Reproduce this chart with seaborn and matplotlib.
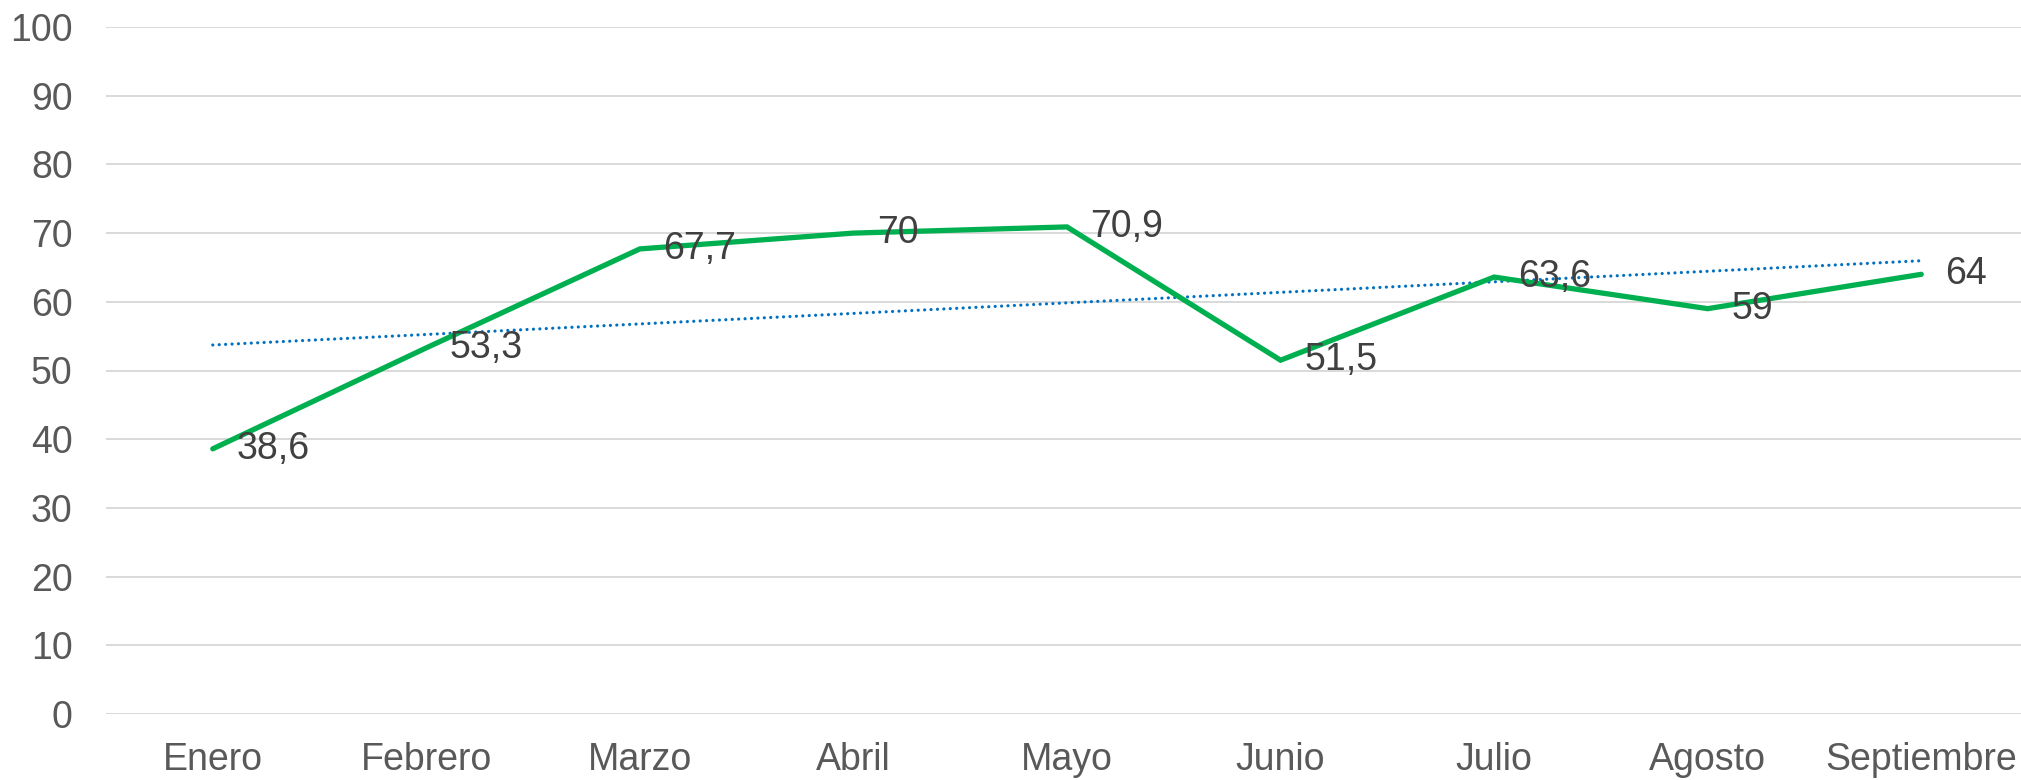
import matplotlib
matplotlib.use('Agg')
import matplotlib.pyplot as plt
import pandas as pd
import seaborn as sns

# datos del gráfico
meses = ['Enero', 'Febrero', 'Marzo', 'Abril', 'Mayo', 'Junio', 'Julio', 'Agosto', 'Septiembre']
valores = [38.6, 53.3, 67.7, 70, 70.9, 51.5, 63.6, 59, 64]
etiquetas = ['38,6', '53,3', '67,7', '70', '70,9', '51,5', '63,6', '59', '64']
yticks = [0, 10, 20, 30, 40, 50, 60, 70, 80, 90, 100]

sns.set_theme(style='white')
plt.rcParams['font.family'] = ['Liberation Sans', 'DejaVu Sans']

df = pd.DataFrame({'pos': range(len(meses)), 'mes': meses, 'valor': valores})

fig = plt.figure(figsize=(20.21, 7.8), dpi=100)
ax = fig.add_axes([106 / 2021, 1 - 714 / 780, 1922 / 2021, 687 / 780])

# línea de tendencia lineal (punteada)
sns.regplot(data=df, x='pos', y='valor', scatter=False, ci=None, truncate=True, ax=ax,
            line_kws=dict(color='#0070C0', lw=2.3, dashes=(0.01, 2.0), dash_capstyle='round'))
# serie principal
sns.lineplot(data=df, x='pos', y='valor', ax=ax, color='#00B050', lw=3.8,
             solid_capstyle='round', solid_joinstyle='miter')

for x, y, txt in zip(df['pos'], df['valor'], etiquetas):
    ax.annotate(txt, (x, y), xytext=(17, 0), textcoords='offset points',
                ha='left', va='center', fontsize=27, color='#404040')

ax.set_xlim(-0.5, len(meses) - 0.5)
ax.set_ylim(0, 100)
ax.set_xticks(range(len(meses)))
ax.set_xticklabels(meses)
ax.set_yticks(yticks)
ax.tick_params(axis='both', length=0, labelsize=27, labelcolor='#595959')
ax.tick_params(axis='y', pad=24)
ax.tick_params(axis='x', pad=20)
ax.grid(axis='y', color='#D9D9D9', lw=1.4)
ax.set_axisbelow(True)
for s in ax.spines.values():
    s.set_visible(False)
ax.set_xlabel('')
ax.set_ylabel('')

fig.savefig('out.png', dpi=100)
